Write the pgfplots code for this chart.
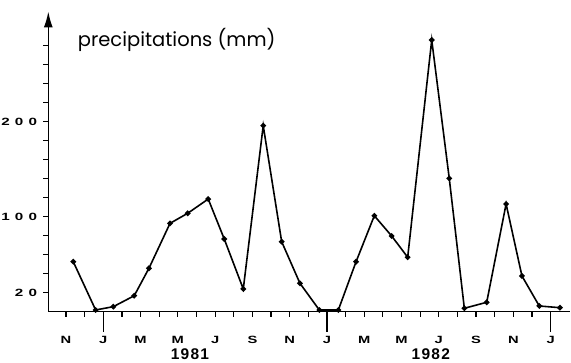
\documentclass[border=0pt]{standalone}
\usepackage{fontspec}
\usepackage{graphicx}
\setmainfont{Liberation Sans}
\newfontfamily\titlefont{Poppins}
\newfontfamily\tickfont{Liberation Sans Bold}
\newfontfamily\yearfont[LetterSpace=8]{Liberation Sans Bold}
\newcommand\xl[1]{\scalebox{1.4}[1]{#1}}
\newcommand\yl[1]{\scalebox{1.45}[1]{#1}}
\usepackage{pgfplots}
\pgfplotsset{compat=1.18}
\usetikzlibrary{arrows.meta}
\begin{document}
\begin{tikzpicture}
\useasboundingbox (-48.3pt,-51.3pt) rectangle (522.7pt,311.7pt);
\begin{axis}[
  at={(0pt,0pt)}, anchor=south west,
  x=18.64pt, y=0.95pt,
  xmin=-2.95, xmax=25.05, ymin=0, ymax=316,
  axis x line=bottom, axis y line=left,
  x axis line style={-, line width=1.4pt},
  y axis line style={-{Latex[length=16pt,width=9pt]}, line width=1.4pt},
  xtick={-2,0,...,24},
  xticklabels={\xl{N},\xl{J},\xl{M},\xl{M},\xl{J},\xl{S},\xl{N},\xl{J},\xl{M},\xl{M},\xl{J},\xl{S},\xl{N},\xl{J}},
  minor xtick={-1,1,...,23},
  ytick={20,100,200},
  yticklabels={\yl{2\kern3.6pt0},\yl{1\kern3.6pt0\kern3.6pt0},\yl{2\kern3.6pt0\kern3.6pt0}},
  minor ytick={40,60,80,120,140,160,180,220,240,260,280},
  tick align=outside,
  major tick length=5pt, minor tick length=5pt,
  tick style={line width=1.2pt, black},
  extra x ticks={0,12,24}, extra x tick labels={},
  extra x tick style={major tick length=20pt},
  xticklabel style={font=\tickfont\fontsize{10.5}{12}\selectfont, anchor=base, yshift=-27pt},
  yticklabel style={font=\tickfont\fontsize{10.5}{12}\selectfont, anchor=east, inner sep=0pt, xshift=-6pt},
  clip=false,
]
\addplot[black, line width=1.6pt, mark=*, mark size=1.9pt] coordinates {
(-1.61,52.6) (-0.41,1.8) (0.54,5.3) (1.66,16.8) (2.45,45.7) (3.58,93.0)
(4.53,103.6) (5.63,118.6) (6.49,76.5) (7.51,23.9) (8.58,195.8) (9.57,73.7)
(10.55,29.9) (11.59,1.8) (12.61,1.8) (13.56,52.6) (14.54,101.0) (15.47,79.7)
(16.33,57.3) (17.62,286.0) (18.56,140.4) (19.37,3.6) (20.57,9.9) (21.61,113.4)
(22.46,37.6) (23.39,6.0) (24.50,4.2)
};
\node[anchor=base, inner sep=0pt, font=\titlefont\fontsize{19.5}{22}\selectfont] at (axis cs:3.94,279) {precipitations (mm)};
\node[anchor=base, inner sep=0pt, font=\yearfont\fontsize{15.5}{18}\selectfont] at (axis cs:4.65,-50.5) {1981};
\node[anchor=base, inner sep=0pt, font=\yearfont\fontsize{15.5}{18}\selectfont] at (axis cs:17.57,-50.5) {1982};
\end{axis}
\end{tikzpicture}
\end{document}
